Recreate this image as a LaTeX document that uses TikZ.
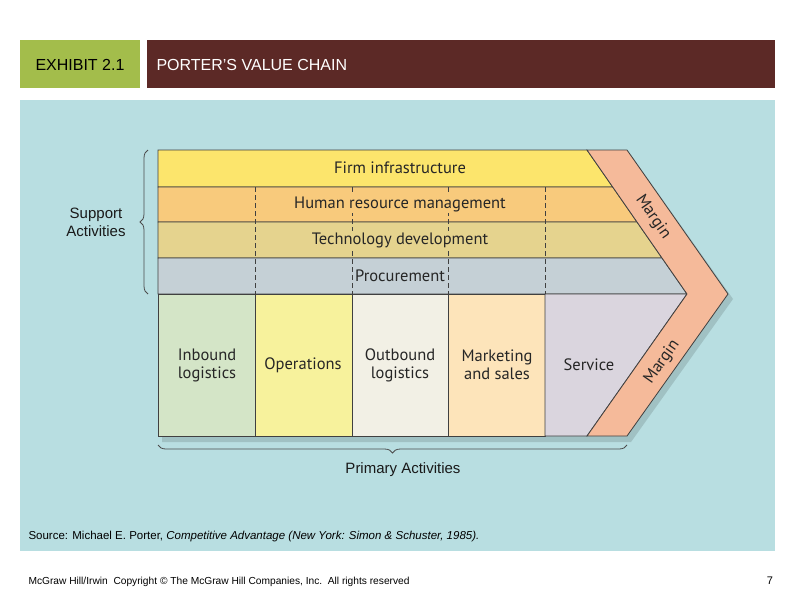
\documentclass[tikz,border=0pt]{standalone}
\usepackage{fontspec}
\setmainfont{Liberation Sans}
\newfontfamily\chainfont{PT Sans}
\usetikzlibrary{calc,decorations.pathreplacing}

\definecolor{panelblue}{HTML}{B8DEE1}
\definecolor{exhibitgreen}{HTML}{A3BD4B}
\definecolor{titlered}{HTML}{5C2926}
\definecolor{infracol}{HTML}{FCE56C}
\definecolor{hrmcol}{HTML}{F8CA7C}
\definecolor{techcol}{HTML}{E5D38E}
\definecolor{procol}{HTML}{C5D0D6}
\definecolor{inboundcol}{HTML}{D4E5C7}
\definecolor{opscol}{HTML}{F7F29C}
\definecolor{outboundcol}{HTML}{F2F0E5}
\definecolor{marketcol}{HTML}{FDE4BA}
\definecolor{servicecol}{HTML}{DAD5DE}
\definecolor{margincol}{HTML}{F5BA9A}

\begin{document}
\begin{tikzpicture}[x=1pt,y=-1pt,
    cell/.style={draw=black!75, line width=0.8pt},
    sep/.style={black!75, dashed, line width=0.7pt, dash pattern=on 5pt off 3pt},
    chainlabel/.style={font=\chainfont\fontsize{16.5}{18}\selectfont, align=center, text=black!85, inner sep=1pt},
    sidelabel/.style={font=\fontsize{15}{18}\selectfont, align=center, text=black!90},
    curly/.style={draw=black!70, line width=0.8pt, decorate, decoration={brace, amplitude=8pt}}]
    \useasboundingbox (0,0) rectangle (800,600);
    \fill [white] (0,0) rectangle (800,600);

    \fill [exhibitgreen] (20,40) rectangle (140,88);
    \fill [titlered] (147,40) rectangle (775,88);
    \node [anchor=west, font=\fontsize{16}{18}\selectfont] (exhibit) at (32,65) {EXHIBIT 2.1};
    \node [anchor=west, font=\fontsize{16}{18}\selectfont, text=white] (title) at (153,65) {PORTER’S VALUE CHAIN};

    \fill [panelblue] (20,100) rectangle (775,551);

    \fill [black, opacity=0.13] (162,155) -- (591,155) -- (631,155) -- (733,299) -- (631,442) -- (162,442) -- cycle;

    \draw [cell, fill=infracol] (158,150) -- (587,150) -- (612.7,187) -- (158,187) -- cycle;
    \draw [cell, fill=hrmcol] (158,187) -- (612.7,187) -- (637,222) -- (158,222) -- cycle;
    \draw [cell, fill=techcol] (158,222) -- (637,222) -- (662,258) -- (158,258) -- cycle;
    \draw [cell, fill=procol] (158,258) -- (662,258) -- (687,294) -- (158,294) -- cycle;

    \draw [sep] (255,187) -- (255,294);
    \draw [sep] (352,187) -- (352,294);
    \draw [sep] (448,187) -- (448,294);
    \draw [sep] (545,187) -- (545,294);

    \draw [cell, fill=inboundcol] (158,294) rectangle (255,436);
    \draw [cell, fill=opscol] (255,294) rectangle (352,436);
    \draw [cell, fill=outboundcol] (352,294) rectangle (448,436);
    \draw [cell, fill=marketcol] (448,294) rectangle (545,436);
    \draw [cell, fill=servicecol] (545,294) -- (687,294) -- (587,436) -- (545,436) -- cycle;

    \draw [cell, fill=margincol] (587,150) -- (627,150) -- (728,294) -- (627,436) -- (587,436) -- (687,294) -- cycle;

    \node [chainlabel, fill=infracol] (infra) at (400,168) {Firm infrastructure};
    \node [chainlabel, fill=hrmcol] (hrm) at (400,204) {Human resource management};
    \node [chainlabel, fill=techcol] (tech) at (400,240) {Technology development};
    \node [chainlabel, fill=procol] (procure) at (400,276) {Procurement};

    \node [chainlabel] (inbound) at (207,365) {Inbound\\logistics};
    \node [chainlabel] (operations) at (303,365) {Operations};
    \node [chainlabel] (outbound) at (400,365) {Outbound\\logistics};
    \node [chainlabel] (marketing) at (497,365) {Marketing\\and sales};
    \node [chainlabel] (service) at (589,365) {Service};

    \node [chainlabel, rotate=-55, inner sep=0pt] (margintop) at (653,217) {Margin};
    \node [chainlabel, rotate=55, inner sep=0pt] (marginbot) at (662,362) {Margin};

    \draw [curly] (148,294) -- (148,150);
    \node [sidelabel] (support) at (96,222) {Support\\Activities};
    \draw [curly] (627,445) -- (158,445);
    \node [sidelabel] (primary) at (403,470) {Primary Activities};

    \node [anchor=west, font=\fontsize{11.5}{13}\selectfont] (source) at (25,537) {Source: Michael E. Porter, \textit{Competitive Advantage (New York: Simon \& Schuster, 1985).}};
    \node [anchor=west, font=\fontsize{10.2}{12}\selectfont] (footer) at (25,582) {McGraw Hill/Irwin\ \ Copyright \textcopyright\ The McGraw Hill Companies, Inc.\ \ All rights reserved};
    \node [font=\fontsize{11}{12}\selectfont] (pagenum) at (770,581) {7};
\end{tikzpicture}
\end{document}
